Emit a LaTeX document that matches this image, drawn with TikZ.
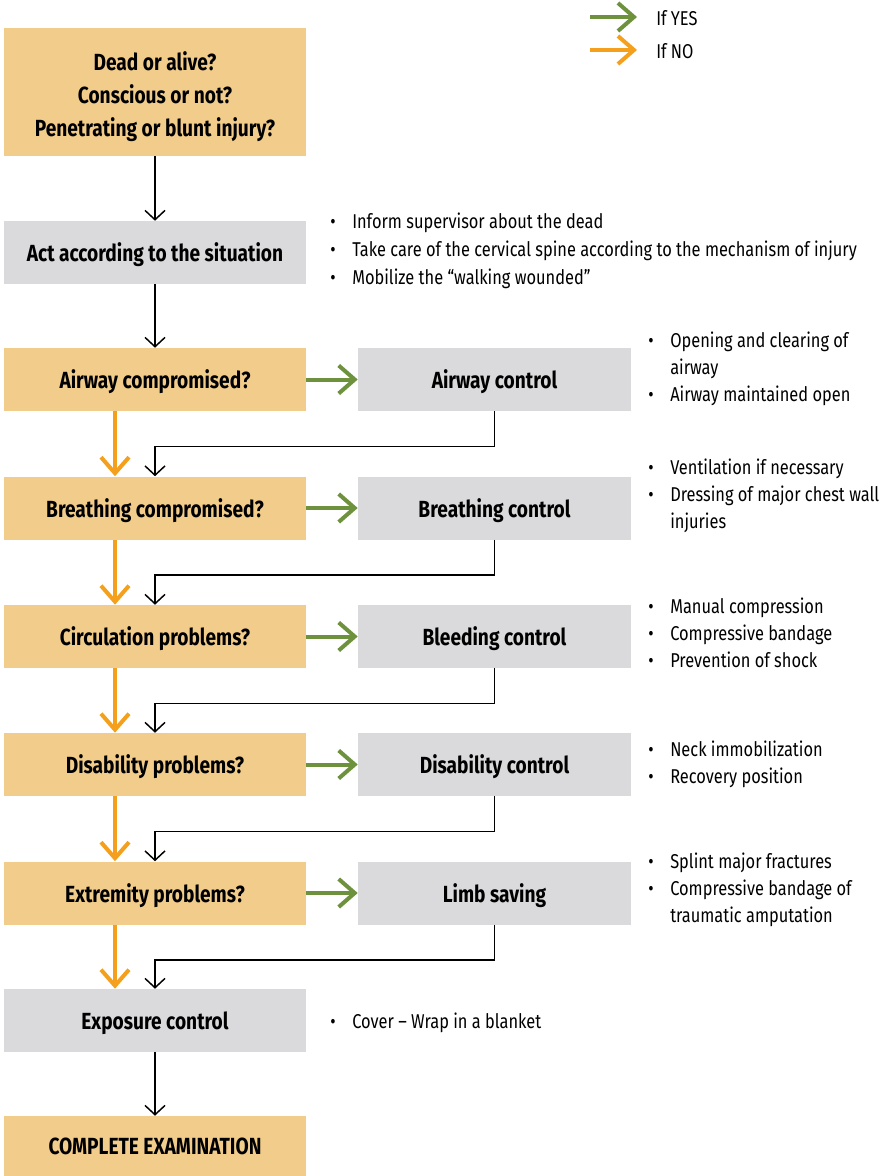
\documentclass[tikz,border=0pt]{standalone}
\usepackage{fontspec}
\setmainfont{Fira Sans}[FakeStretch=0.82]
\usetikzlibrary{arrows.meta}

\definecolor{askfill}{RGB}{242,204,138}
\definecolor{dofill}{RGB}{218,218,220}
\definecolor{yesgreen}{RGB}{110,145,62}
\definecolor{noorange}{RGB}{244,160,28}

% bullet with hanging indent
\newcommand{\bul}{\makebox[16.5pt][l]{\textbullet}}
\newcommand{\hang}{\hspace*{16.5pt}}

\tikzset{
  askbox/.style={fill=askfill, minimum width=226.5pt, minimum height=47.25pt,
    inner sep=0pt, align=center, text depth=0pt,
    font=\bfseries\fontsize{17.5}{24.75}\selectfont},
  dobox/.style={askbox, fill=dofill},
  ctlbox/.style={dobox, minimum width=204.75pt},
  note/.style={anchor=north west, inner sep=0pt, align=left,
    font=\fontsize{15}{20}\selectfont},
  legend/.style={anchor=west, inner sep=0pt, font=\fontsize{15}{20}\selectfont},
  flow/.style={draw=black, line width=1.1pt, -{Straight Barb[length=7pt,width=15pt]}},
  yes/.style={draw=yesgreen, line width=3pt, -{Straight Barb[length=12pt,width=21pt]}},
  no/.style={draw=noorange, line width=3pt, -{Straight Barb[length=12pt,width=21pt]}}
}

\begin{document}
\begin{tikzpicture}[x=0.75pt, y=-0.75pt]

  \useasboundingbox (0,0) rectangle (884,1176);

  % Legenda
  \coordinate (yesA) at (590,17);
  \coordinate (yesB) at (637,17);
  \coordinate (noA) at (590,50);
  \coordinate (noB) at (637,50);
  \draw[yes] (yesA) -- (yesB);
  \draw[no] (noA) -- (noB);
  \node[legend] (yeslbl) at (656,18) {If YES};
  \node[legend] (nolbl) at (656,51) {If NO};

  % Colonna principale
  \node[askbox, minimum height=96pt, text depth={}] (start) at (155,92)
    {\raisebox{-3.5pt}[\height][\depth]{\begin{tabular}{@{}c@{}}Dead or alive?\\Conscious or not?\\Penetrating or blunt injury?\end{tabular}}};
  \node[dobox] (act) at (155,252.5) {Act according to the situation};
  \node[askbox] (air) at (155,379.5) {Airway compromised?};
  \node[askbox] (breath) at (155,508) {Breathing compromised?};
  \node[askbox] (circ) at (155,636.5) {Circulation problems?};
  \node[askbox] (dis) at (155,764.5) {Disability problems?};
  \node[askbox] (ext) at (155,893) {Extremity problems?};
  \node[dobox] (expo) at (155,1020.5) {Exposure control};
  \node[askbox, minimum height=45pt] (exam) at (155,1146) {COMPLETE EXAMINATION};

  % Colonna dei controlli
  \node[ctlbox] (airctl) at (494.5,379.5) {Airway control};
  \node[ctlbox] (breathctl) at (494.5,508) {Breathing control};
  \node[ctlbox] (circctl) at (494.5,636.5) {Bleeding control};
  \node[ctlbox] (disctl) at (494.5,764.5) {Disability control};
  \node[ctlbox] (extctl) at (494.5,893) {Limb saving};

  % Note
  \node[note, font=\fontsize{15}{20.75}\selectfont] (actnote) at (330,213)
    {\bul Inform supervisor about the dead\\
    \bul Take care of the cervical spine according to the mechanism of injury\\
    \bul Mobilize the “walking wounded”};
  \node[note] (airnote) at (648,332) {\bul Opening and clearing of\\
    \hang airway\\ \bul Airway maintained open};
  \node[note] (breathnote) at (648,459) {\bul Ventilation if necessary\\
    \bul Dressing of major chest wall\\ \hang injuries};
  \node[note] (circnote) at (648,598) {\bul Manual compression\\
    \bul Compressive bandage\\ \bul Prevention of shock};
  \node[note] (disnote) at (648,741) {\bul Neck immobilization\\
    \bul Recovery position};
  \node[note] (extnote) at (648,853) {\bul Splint major fractures\\
    \bul Compressive bandage of\\ \hang traumatic amputation};
  \node[note] (exponote) at (330,1013) {\bul Cover -- Wrap in a blanket};

  % Frecce nere
  \draw[flow] (start) -- (act);
  \draw[flow] (act) -- (air);
  \draw[flow] (expo) -- (exam);
  \foreach \ctl/\next in {airctl/breath, breathctl/circ, circctl/dis, disctl/ext, extctl/expo}
    \draw[flow] (\ctl.south) -- ++(0,35) -| (\next.north);

  % Frecce SI
  \foreach \q/\ctl in {air/airctl, breath/breathctl, circ/circctl, dis/disctl, ext/extctl}
    \draw[yes] (\q) -- (\ctl);

  % Frecce NO
  \foreach \q/\next in {air/breath, breath/circ, circ/dis, dis/ext, ext/expo}
    \draw[no] ([xshift=-30pt]\q.south) -- ([xshift=-30pt]\next.north);

\end{tikzpicture}
\end{document}
